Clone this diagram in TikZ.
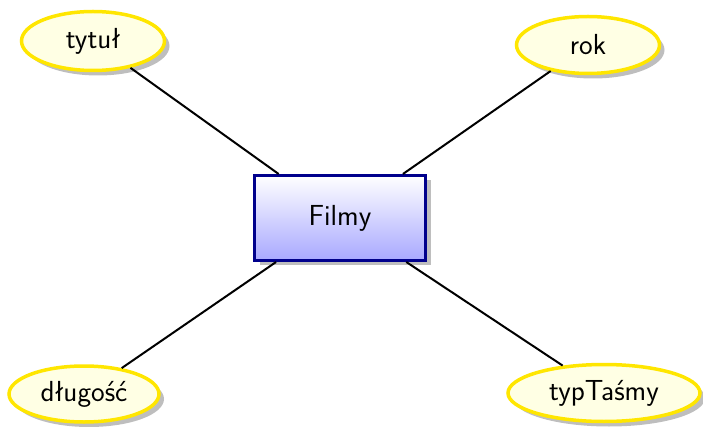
\documentclass[tikz,border=0pt]{standalone}
\usetikzlibrary{shapes.geometric,shadows}
\definecolor{attrfill}{RGB}{255,255,228}
\definecolor{attrborder}{RGB}{255,230,0}
\definecolor{entborder}{RGB}{0,0,140}
\definecolor{entbottom}{RGB}{168,168,255}
\definecolor{shadowgray}{RGB}{190,190,190}
\tikzset{
  attr/.style={ellipse, draw=attrborder, fill=attrfill, line width=3.5pt, inner sep=0pt,
    font=\sffamily\fontsize{29}{34}\selectfont,
    drop shadow={shadow xshift=5pt, shadow yshift=-5pt, fill=shadowgray, opacity=1}},
  entity/.style={rectangle, draw=entborder, line width=3pt, top color=white, bottom color=entbottom,
    minimum width=171pt, minimum height=85pt, inner sep=0pt,
    font=\sffamily\fontsize{29}{34}\selectfont,
    drop shadow={shadow xshift=5pt, shadow yshift=-5pt, fill=shadowgray, opacity=1}},
  conn/.style={line width=2pt, black}
}
\begin{document}
\begin{tikzpicture}[x=1pt,y=1pt]
\useasboundingbox (0,0) rectangle (703,-427);
\node[entity] (filmy) at (340,-218) {Filmy};
\node[attr, minimum width=143pt, minimum height=59pt] (tytul) at (93,-41) {tytuł};
\node[attr, minimum width=143pt, minimum height=57pt] (rok) at (588,-45) {rok};
\node[attr, minimum width=150pt, minimum height=56pt] (dlugosc) at (84,-394) {długość};
\node[attr, minimum width=192pt, minimum height=57pt] (typ) at (604,-393) {typTaśmy};
\draw[conn] (tytul) -- (filmy);
\draw[conn] (rok) -- (filmy);
\draw[conn] (dlugosc) -- (filmy);
\draw[conn] (typ) -- (filmy);
\end{tikzpicture}
\end{document}
